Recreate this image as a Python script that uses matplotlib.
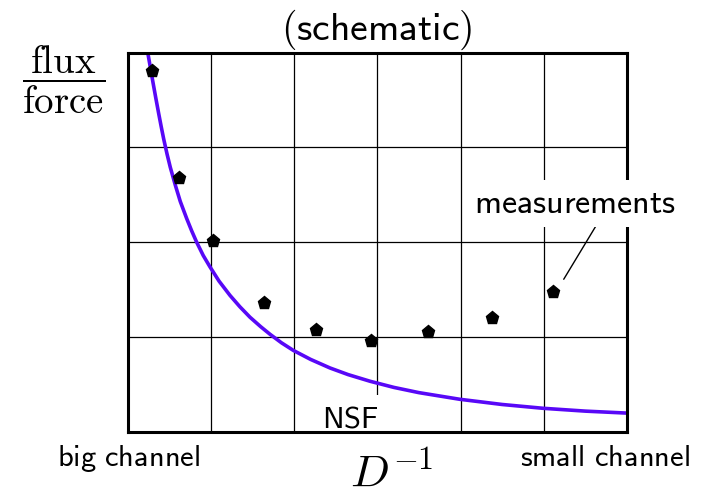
import matplotlib
matplotlib.use("Agg")
import matplotlib.pyplot as plt

plt.rcParams['mathtext.fontset'] = 'cm'

# NSF curve
nsf_x = [0.243, 0.275, 0.306, 0.340, 0.375, 0.405, 0.435, 0.475, 0.514, 0.575,
         0.634, 0.711, 0.771, 0.831, 0.91, 0.991, 1.10, 1.231, 1.35, 1.471,
         1.60, 1.712, 1.85, 1.992, 2.20, 2.432, 2.65, 2.913, 3.20, 3.50,
         3.99, 4.50, 4.99, 5.50, 5.98]
nsf_y = [4.0, 3.84, 3.685, 3.52, 3.355, 3.218, 3.087, 2.93, 2.79, 2.60,
         2.43, 2.25, 2.12, 2.00, 1.86, 1.74, 1.59, 1.44, 1.32, 1.21,
         1.11, 1.03, 0.94, 0.86, 0.765, 0.675, 0.605, 0.535, 0.47, 0.415,
         0.345, 0.29, 0.25, 0.22, 0.20]

# measurements
meas_x = [0.30, 0.62, 1.03, 1.64, 2.27, 2.92, 3.61, 4.38, 5.11]
meas_y = [3.80, 2.68, 2.01, 1.36, 1.08, 0.96, 1.05, 1.20, 1.48]

fig = plt.figure(figsize=(7.15, 4.96), dpi=100)
ax = fig.add_axes([127.5/715, 1 - 432/496, 499.5/715, 379.5/496])

ax.plot(nsf_x, nsf_y, color='#5808f7', lw=2.6, zorder=2,
        solid_joinstyle='round')
ax.plot(meas_x, meas_y, 'p', color='black', markersize=9.5, zorder=3)

ax.set_xlim(0, 6)
ax.set_ylim(0, 4)
ax.set_xticks(range(7))
ax.set_yticks(range(5))
ax.tick_params(length=0, labelbottom=False, labelleft=False)
ax.set_axisbelow(True)
ax.grid(True, color='black', lw=0.9)
for s in ax.spines.values():
    s.set_linewidth(2.2)

ax.annotate(r'$\mathsf{measurements}$', xy=(5.24, 1.61), xytext=(5.38, 2.31),
            ha='center', va='baseline', fontsize=24.5,
            arrowprops=dict(arrowstyle='-', color='black', lw=1,
                            shrinkA=0, shrinkB=0, relpos=(0.62, 0)),
            bbox=dict(boxstyle='square,pad=0.2', fc='white', ec='none'),
            annotation_clip=False, zorder=5)
ax.text(2.68, 0.05, r'$\mathsf{NSF}$', ha='center', va='baseline', fontsize=22,
        bbox=dict(boxstyle='square,pad=0.3', fc='white', ec='none'),
        zorder=2.4)

fig.text(377/715, 1 - 40/496, r'$\mathsf{(schematic)}$', ha='center',
         va='baseline', fontsize=28.5)
fig.text(64/715, 1 - 80/496, r'$\dfrac{\mathrm{flux}}{\mathrm{force}}$',
         ha='center', va='center', fontsize=28)
fig.text(129/715, 1 - 466/496, r'$\mathsf{big\ channel}$', ha='center',
         va='baseline', fontsize=22)
fig.text(605/715, 1 - 466/496, r'$\mathsf{small\ channel}$', ha='center',
         va='baseline', fontsize=22)
fig.text(392/715, 1 - 487/496, r'$D^{-1}$', ha='center', va='baseline',
         fontsize=33)

fig.savefig('out.png', dpi=100)
